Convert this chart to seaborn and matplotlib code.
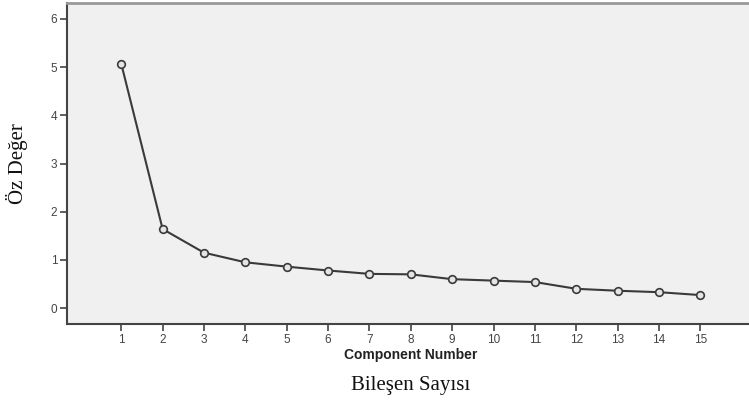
import matplotlib
matplotlib.use("Agg")
from matplotlib import pyplot as plt
import seaborn as sns
import pandas as pd

# scree plot data
components = [1, 2, 3, 4, 5, 6, 7, 8, 9, 10, 11, 12, 13, 14, 15]
eigenvalues = [5.07, 1.64, 1.15, 0.95, 0.86, 0.78, 0.71, 0.70, 0.60, 0.57, 0.54, 0.40, 0.36, 0.33, 0.27]
y_ticks = [0, 1, 2, 3, 4, 5, 6]

df = pd.DataFrame({"comp": components, "eig": eigenvalues})

sns.set_style("white")
plt.rcParams['font.family'] = ['Liberation Sans', 'DejaVu Sans']

fig = plt.figure(figsize=(7.49, 4.0), dpi=100)
ax = fig.add_axes([0.0895, 0.19, 0.912, 0.8025])
ax.set_facecolor('#f0f0f0')

sns.lineplot(data=df, x="comp", y="eig", ax=ax, color='#3a3a3a', linewidth=1.5,
             marker='o', markersize=5.5, markerfacecolor='#e4e4e4',
             markeredgecolor='#3a3a3a', markeredgewidth=1.2)

ax.set_xlim(-0.31, 16.2)
ax.set_ylim(-0.33, 6.33)
ax.set_xticks(components)
ax.set_yticks(y_ticks)
ax.tick_params(axis='both', direction='out', length=5, width=1.2, color='#444444',
               labelsize=8.5, labelcolor='#444444', left=True, bottom=True, pad=2)

for side in ['left', 'bottom']:
    ax.spines[side].set_color('#444444')
    ax.spines[side].set_linewidth(1.5)
ax.spines['top'].set_color('#999999')
ax.spines['top'].set_linewidth(2)
ax.spines['right'].set_visible(False)

ax.set_xlabel('')
ax.set_ylabel('')

fig.text(0.548, 0.112, 'Component Number', ha='center', va='center',
         fontsize=10, fontweight='bold', color='#222222', family=['Liberation Sans'])
fig.text(0.548, 0.037, 'Bileşen Sayısı', ha='center', va='center',
         fontsize=15, color='#111111', family=['Liberation Serif'])
fig.text(0.023, 0.59, 'Öz Değer', ha='center', va='center', rotation=90,
         fontsize=15, color='#111111', family=['Liberation Serif'])

fig.savefig('out.png', dpi=100)
